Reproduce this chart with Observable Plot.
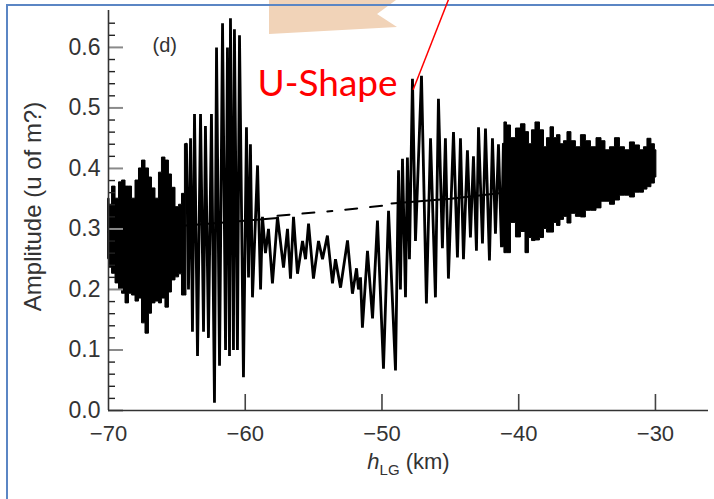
<!DOCTYPE html>
<html>
<head>
<meta charset="utf-8">
<script src="https://cdn.jsdelivr.net/npm/d3@7"></script>
<script src="https://cdn.jsdelivr.net/npm/@observablehq/plot@0.6"></script>
<style>
  html, body { margin: 0; padding: 0; background: #fff; }
  #page { position: relative; width: 714px; height: 499px; overflow: hidden; font-family: "Liberation Sans", Arial, sans-serif; }
  #tab { position: absolute; left: 0; top: 0; }
  #frame { position: absolute; left: 6px; top: 4px; width: 730px; height: 530px; border: 2px solid #5b86c4; box-sizing: border-box; }
  #chart { position: absolute; left: 0; top: 0; }
</style>
</head>
<body>
<div id="page">
  <svg id="tab" width="714" height="60"><polygon points="269,0 396,0 377,14 397,27 269,34" fill="#f1d3b8"></polygon></svg>
  <div id="frame"></div>
  <div id="chart"></div>
</div>
<script>
// Oscillating amplitude vs. h_LG (km), panel (d)

// Dense oscillation band on the left: envelope (km, upper, lower)
const leftX  = [-70.00, -69.85, -69.63, -69.34, -69.12, -68.90, -68.61, -68.39, -68.17, -67.88, -67.66, -67.44, -67.15, -66.93, -66.71, -66.42, -66.20, -65.98, -65.69, -65.47, -65.25, -64.95, -64.73, -64.52, -64.30];
const leftHi = [0.35, 0.34, 0.37, 0.35, 0.377, 0.38, 0.37, 0.37, 0.35, 0.38, 0.40, 0.413, 0.40, 0.385, 0.367, 0.35, 0.393, 0.418, 0.413, 0.39, 0.368, 0.336, 0.34, 0.358, 0.44];
const leftLo = [0.25, 0.236, 0.226, 0.21, 0.20, 0.193, 0.177, 0.193, 0.19, 0.18, 0.185, 0.144, 0.127, 0.16, 0.177, 0.18, 0.177, 0.185, 0.17, 0.195, 0.215, 0.22, 0.225, 0.19, 0.19];

// Resolved oscillation in the middle: successive peaks and troughs
const midX = [-64.30, -64.15, -64.00, -63.86, -63.71, -63.49, -63.27, -63.05, -62.91, -62.69,
  -62.47, -62.25, -62.10, -61.88, -61.66, -61.44, -61.30, -61.15, -61.08, -60.86,
  -60.79, -60.57, -60.42, -60.13, -59.91, -59.76, -59.62, -59.47, -59.10, -58.88,
  -58.74, -58.52, -58.30, -58.01, -57.64, -57.20, -56.91, -56.69, -56.47, -56.18,
  -55.81, -55.59, -55.37, -55.01, -54.64, -54.35, -53.99, -53.62, -53.40, -53.03,
  -52.52, -52.16, -51.86, -51.72, -51.57, -51.43, -51.06, -50.69, -50.33, -49.89,
  -49.52, -49.01, -48.79, -48.65, -48.50, -48.28, -48.14, -47.99, -47.77, -47.55,
  -47.11, -46.75, -46.45, -46.09, -45.87, -45.58, -45.36, -45.14, -44.77, -44.48,
  -44.26, -44.04, -43.75, -43.53, -43.31, -43.09, -42.94, -42.65, -42.43, -42.14,
  -41.92, -41.70, -41.48, -41.26, -41.12];
const midY = [0.44, 0.20, 0.45, 0.13, 0.49, 0.09, 0.49, 0.13, 0.47, 0.12,
  0.49, 0.013, 0.60, 0.074, 0.64, 0.10, 0.60, 0.09, 0.648, 0.10,
  0.63, 0.10, 0.62, 0.055, 0.468, 0.22, 0.44, 0.187, 0.405, 0.20,
  0.32, 0.26, 0.30, 0.21, 0.32, 0.236, 0.30, 0.218, 0.32, 0.226,
  0.28, 0.25, 0.309, 0.218, 0.28, 0.25, 0.289, 0.21, 0.25, 0.203,
  0.281, 0.193, 0.235, 0.20, 0.22, 0.137, 0.264, 0.152, 0.314, 0.069,
  0.33, 0.066, 0.397, 0.20, 0.416, 0.187, 0.418, 0.25, 0.548, 0.28,
  0.553, 0.177, 0.45, 0.187, 0.515, 0.268, 0.45, 0.218, 0.46, 0.253,
  0.45, 0.25, 0.43, 0.286, 0.42, 0.264, 0.468, 0.276, 0.466, 0.248,
  0.45, 0.292, 0.44, 0.27, 0.44];

// Dense oscillation band on the right: envelope (km, upper, lower)
const rightX  = [-41.12, -40.97, -40.75, -40.38, -40.02, -39.65, -39.36, -39.14, -38.92, -38.63, -38.26, -38.04, -37.82, -37.53, -37.31, -37.09, -36.80, -36.58, -36.29, -36.00, -35.63, -35.27, -34.90, -34.53, -34.09, -33.80, -33.51, -33.14, -32.78, -32.41, -32.05, -31.68, -31.32, -30.95, -30.73, -30.44, -30.15, -29.93];
const rightHi = [0.44, 0.476, 0.471, 0.45, 0.466, 0.473, 0.46, 0.44, 0.463, 0.476, 0.463, 0.435, 0.45, 0.468, 0.45, 0.455, 0.44, 0.445, 0.46, 0.445, 0.435, 0.455, 0.445, 0.435, 0.45, 0.445, 0.43, 0.435, 0.45, 0.435, 0.43, 0.443, 0.438, 0.43, 0.435, 0.449, 0.44, 0.43];
const rightLo = [0.27, 0.26, 0.26, 0.31, 0.286, 0.295, 0.26, 0.285, 0.28, 0.281, 0.285, 0.30, 0.294, 0.294, 0.31, 0.305, 0.315, 0.32, 0.309, 0.325, 0.32, 0.319, 0.33, 0.33, 0.334, 0.345, 0.345, 0.34, 0.347, 0.355, 0.355, 0.352, 0.36, 0.36, 0.365, 0.369, 0.375, 0.385];

// Mean amplitude trend (solid, dashed, solid)
const trendAX = [-70, -66, -62, -57.64];
const trendAY = [0.295, 0.303, 0.31, 0.318];
const trendDashX = [-57.64, -53.4, -49.3];
const trendDashY = [0.322, 0.33, 0.34];
const trendBX = [-49.3, -45, -41.12];
const trendBY = [0.342, 0.35, 0.36];

// Axes
const yMajor = [0, 0.1, 0.2, 0.3, 0.4, 0.5, 0.6];
const yLabels = ["0.0", "0.1", "0.2", "0.3", "0.4", "0.5", "0.6"];
const yMinor = [0.02, 0.04, 0.06, 0.08, 0.12, 0.14, 0.16, 0.18, 0.22, 0.24, 0.26, 0.28, 0.32, 0.34, 0.36, 0.38, 0.42, 0.44, 0.46, 0.48, 0.52, 0.54, 0.56, 0.58, 0.62, 0.64];
const xMajor = [-70, -60, -50, -40, -30];
const xLabels = ["\u221270", "\u221260", "\u221250", "\u221240", "\u221230"];
const xTitle = "hLG (km)";
const yTitle = "Amplitude (u of m?)";
const panelTag = "(d)";

// Callout on the large spike near -47.8 km
const calloutText = "U-Shape";
const calloutPos = {x: -59.1, y: 0.52};
const pointer = {x1: -47.72, y1: 0.53, x2: -45.12, y2: 0.68};

const rows = (xs, a, b) => xs.map((x, i) => ({x, hi: a[i], lo: b[i]}));
const leftRows = rows(leftX, leftHi, leftLo);
const rightRows = rows(rightX, rightHi, rightLo);
const pts = (xs, ys) => xs.map((x, i) => ({x, y: ys[i]}));
const midRows = pts(midX, midY);

const font = "'Liberation Sans', Arial, sans-serif";

const chart = Plot.plot({
  width: 714,
  height: 499,
  marginLeft: 108,
  marginRight: 6,
  marginTop: 10,
  marginBottom: 89,
  style: {background: "transparent", fontFamily: font, overflow: "visible"},
  x: {domain: [-70, -26.12]},
  y: {domain: [0, 0.661]},
  marks: [
    Plot.areaY(leftRows, {x: "x", y1: "lo", y2: "hi", curve: "step", fill: "#000", stroke: "#000", strokeWidth: 1}),
    Plot.line(midRows, {x: "x", y: "y", stroke: "#000", strokeWidth: 2.8, strokeLinejoin: "miter", strokeMiterlimit: 3}),
    Plot.areaY(rightRows, {x: "x", y1: "lo", y2: "hi", curve: "step", fill: "#000", stroke: "#000", strokeWidth: 1}),
    Plot.line(pts(trendAX, trendAY), {x: "x", y: "y", stroke: "#000", strokeWidth: 2}),
    Plot.line(pts(trendDashX, trendDashY), {x: "x", y: "y", stroke: "#000", strokeWidth: 2, strokeDasharray: "12,13,12,13,5,13"}),
    Plot.line(pts(trendBX, trendBY), {x: "x", y: "y", stroke: "#000", strokeWidth: 2}),

    // y axis: labels, long major ticks, short minor ticks (pointing inward)
    Plot.axisY(yMajor, {tickSize: 0, tickPadding: 8, tickFormat: d => yLabels[yMajor.indexOf(d)], fontSize: 23, fill: "#333", label: null}),
    Plot.axisY(yMajor, {tickSize: -15, text: null, stroke: "#8a8a8a", strokeWidth: 2, label: null}),
    Plot.axisY(yMinor, {tickSize: -7, text: null, stroke: "#222", strokeWidth: 1.4, label: null}),
    // x axis: labels and upward ticks
    Plot.axisX(xMajor, {tickSize: 0, tickPadding: 15, tickFormat: d => xLabels[xMajor.indexOf(d)], fontSize: 22, fill: "#333", label: null}),
    Plot.axisX(xMajor.slice(1), {tickSize: -16, text: null, stroke: "#444", strokeWidth: 1.6, label: null}),
    Plot.ruleX([-70], {stroke: "#333", strokeWidth: 1.6}),
    Plot.ruleY([0], {stroke: "#333", strokeWidth: 1.6}),

    Plot.text([yTitle], {frameAnchor: "left", textAnchor: "middle", rotate: -90, dx: -75, dy: -4, fontSize: 24, fill: "#333"}),
    Plot.text([xTitle], {frameAnchor: "bottom", dy: 58, fontSize: 22, fill: "#333"}),
    Plot.text([panelTag], {frameAnchor: "top-left", dx: 44, dy: 27, fontSize: 20, fill: "#333", textAnchor: "start"}),

    Plot.link([pointer], {x1: "x1", y1: "y1", x2: "x2", y2: "y2", stroke: "#ff0000", strokeWidth: 1.5}),
    Plot.text([calloutPos], {x: "x", y: "y", text: () => calloutText, fill: "#ff0000", fontSize: 37, fontFamily: "Lato, 'Open Sans', sans-serif", textAnchor: "start", lineAnchor: "bottom"})
  ]
});

// Italic h with subscript LG in the x-axis title
for (const t of chart.querySelectorAll("text")) {
  if (t.textContent === xTitle) {
    t.textContent = "";
    const ns = "http://www.w3.org/2000/svg";
    const a = document.createElementNS(ns, "tspan");
    a.setAttribute("font-style", "italic"); a.textContent = "h";
    const b = document.createElementNS(ns, "tspan");
    b.setAttribute("font-size", "15"); b.setAttribute("dy", "6"); b.textContent = "LG";
    const c = document.createElementNS(ns, "tspan");
    c.setAttribute("dy", "-6"); c.textContent = " (km)";
    t.append(a, b, c);
  }
}

document.getElementById("chart").appendChild(chart);
</script>
</body>
</html>
